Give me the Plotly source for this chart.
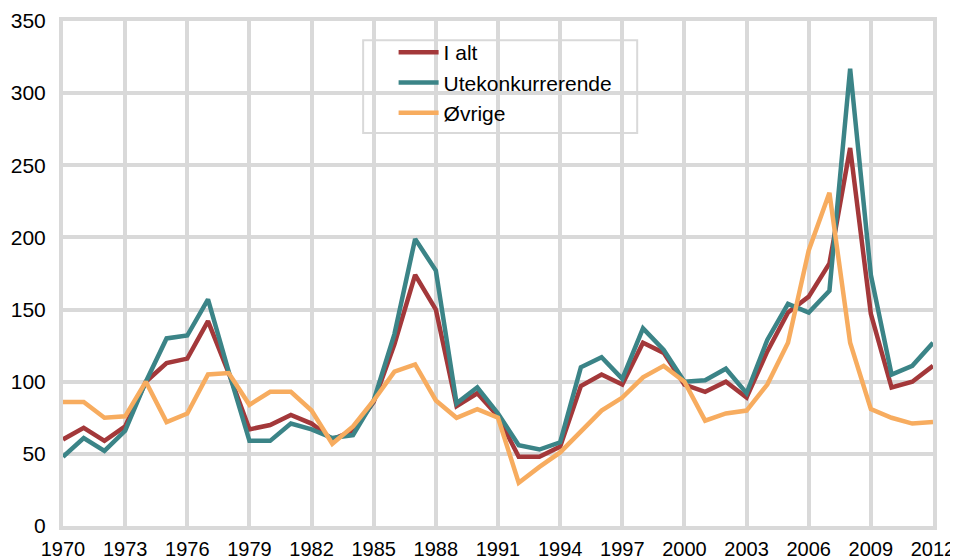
import plotly.graph_objects as go

# Years on the x axis
years = list(range(1970, 2013))

# Index values
i_alt = [60, 68, 59, 69, 100, 113, 116, 142, 106, 67, 70, 77, 71, 60, 66, 86, 126, 174, 150, 83,
         92, 76, 48, 48, 55, 97, 105, 98, 127, 120, 98, 93, 100, 89, 121, 148, 159, 182, 262, 147,
         96, 100, 111]
utekonkurrerende = [48, 61, 52, 66, 100, 130, 132, 157, 107, 59, 59, 71, 67, 61, 63, 87, 133, 199, 177, 85,
                    96, 78, 56, 53, 58, 110, 117, 102, 137, 122, 100, 101, 109, 92, 129, 154, 148, 163, 317, 174,
                    105, 111, 127]
ovrige = [86, 86, 75, 76, 100, 72, 78, 105, 106, 84, 93, 93, 80, 57, 69, 87, 107, 112, 87, 75,
          81, 75, 30, 41, 51, 66, 80, 89, 103, 111, 100, 73, 78, 80, 98, 127, 191, 231, 127, 81,
          75, 71, 72]

series = {"I alt": (i_alt, "#a3383a"),
          "Utekonkurrerende": (utekonkurrerende, "#3b8487"),
          "Øvrige": (ovrige, "#f7ac5f")}

grid = "#d9d9d9"
font = "Liberation Sans, Arial, sans-serif"

fig = go.Figure()
for name, (values, colour) in series.items():
    fig.add_trace(go.Scatter(x=years, y=values, name=name, mode="lines",
                             line=dict(color=colour, width=4.5)))

# legend frame drawn as a shape so it can be wider than plotly's own box
fig.add_shape(type="rect", xref="paper", yref="paper",
              x0=0.345, x1=0.66, y0=0.778, y1=0.962,
              fillcolor="white", line=dict(color=grid, width=2), layer="between")

# page body adds an 8px offset, so the figure is a bit smaller than the window
fig.update_layout(
    width=950, height=552,
    margin=dict(l=55, r=25, t=13, b=34),
    plot_bgcolor="white", paper_bgcolor="white",
    font=dict(family=font, size=20, color="black"),
    showlegend=True,
    legend=dict(x=0.38, y=0.978, xanchor="left", yanchor="top",
                bgcolor="rgba(0,0,0,0)", borderwidth=0,
                font=dict(size=21), tracegroupgap=0, itemwidth=40),
)

fig.update_xaxes(range=[1970, 2012], tick0=1970, dtick=3, automargin=False,
                 showgrid=True, gridcolor=grid, gridwidth=4,
                 showline=True, linecolor=grid, linewidth=4, mirror=True,
                 ticks="", ticklabelstandoff=2, zeroline=False)
fig.update_yaxes(range=[0, 350], dtick=50, automargin=False,
                 showgrid=True, gridcolor=grid, gridwidth=4,
                 showline=True, linecolor=grid, linewidth=4, mirror=True,
                 ticks="", ticklabelstandoff=9, zeroline=False,
                 tickfont=dict(size=21))

fig.write_html("out.html")
